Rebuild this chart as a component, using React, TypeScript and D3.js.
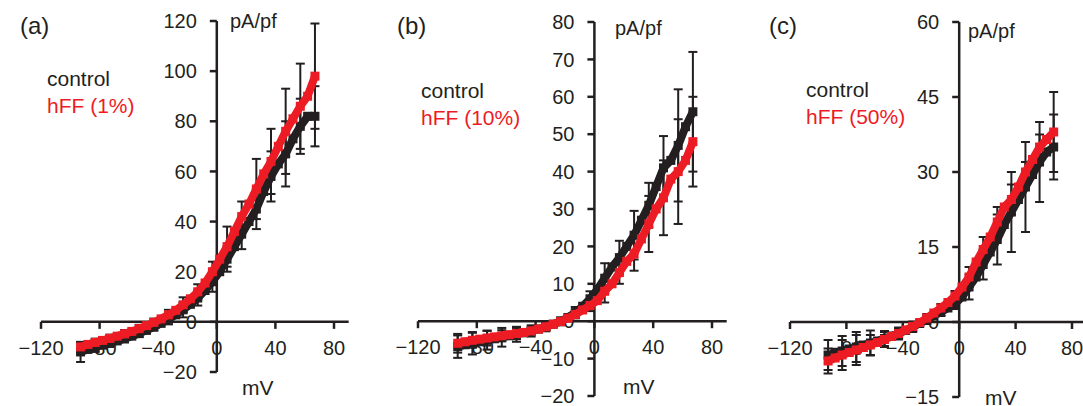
import React from "react";
import * as d3 from "d3";

// ---------- data ----------
const mV = [-93, -88, -83, -78, -73, -68, -63, -58, -53, -48, -43, -38, -33, -28, -23, -18, -13, -8, -3, 2, 7, 12, 17, 22, 27, 32, 37, 42, 47, 52, 57, 62, 67];
const errMv = [-93, -83, -73, -63, -53, -43, -33, -23, -13, -3, 7, 17, 27, 37, 47, 57, 67];
const xTicks = [-120, -80, -40, 0, 40, 80];

// panel (a)
const aControl = [-12, -11, -10, -9.3, -8.5, -7.6, -6.7, -5.7, -4.6, -3.4, -2, -0.6, 1, 2.8, 4.8, 7, 9.5, 12.5, 16, 20, 25, 30, 35, 40, 45, 52, 58, 63, 67, 73, 78, 82, 82];
const aHFF = [-10, -9, -8.2, -7.4, -6.6, -5.7, -4.8, -3.8, -2.7, -1.5, -0.2, 1.2, 2.8, 4.6, 6.8, 9.2, 12, 15.5, 20, 25, 30, 36, 42, 47, 53, 59, 64, 70, 76, 81, 86, 90, 98];
const aControlSem = [4, 2, 1.5, 1.5, 1.5, 1.5, 2, 3, 3, 4, 5, 6, 8, 10, 13, 11, 12];
const aHFFSem = [2, 1.5, 1.5, 1.5, 1.5, 1.5, 2, 3, 3, 4, 8, 6, 12, 13, 17, 17, 21];
const aYTicks = [-20, 0, 20, 40, 60, 80, 100, 120];

// panel (b)
const bControl = [-6.8, -6.3, -5.9, -5.5, -5.1, -4.7, -4.3, -3.9, -3.5, -3.1, -2.6, -2.1, -1.5, -0.8, 0, 1, 2.3, 4, 6, 8.5, 11.5, 14.5, 17, 20, 23, 27, 31, 36, 41, 43, 47, 52, 56];
const bHFF = [-5.9, -5.5, -5.1, -4.8, -4.5, -4.2, -3.9, -3.6, -3.3, -3, -2.6, -2.1, -1.5, -0.8, -0.1, 0.8, 1.8, 3, 4.2, 5.5, 8, 10, 13, 16, 18, 22, 26, 30, 33, 38, 40, 43, 48];
const bControlSem = [3, 3, 2.5, 2.5, 2, 1.5, 1.2, 1, 1.5, 2, 4, 4.5, 6.5, 6, 8.5, 15, 16];
const bHFFSem = [2.5, 2, 2, 1.5, 1.5, 1, 1, 1, 1, 1.5, 3, 3, 4.5, 7.5, 10, 14, 12];
const bYTicks = [-20, -10, 0, 10, 20, 30, 40, 50, 60, 70, 80];

// panel (c)
const cControl = [-6.6, -6.2, -5.8, -5.4, -5, -4.6, -4.2, -3.8, -3.3, -2.8, -2.3, -1.7, -1, -0.3, 0.4, 1.2, 2, 2.8, 3.6, 5, 7, 9, 11.5, 14, 16.5, 19.5, 22, 24.5, 27, 29.5, 32, 34, 35];
const cHFF = [-7.8, -7.2, -6.6, -6.1, -5.6, -5.1, -4.6, -4.1, -3.5, -2.9, -2.3, -1.6, -0.9, -0.1, 0.8, 1.8, 2.8, 3.9, 5.2, 7, 9, 12, 14.5, 17, 20, 23, 24.5, 27, 30, 32.5, 35, 36.5, 38];
const cControlSem = [3, 3, 3, 2.5, 1.5, 1, 1, 0.8, 0.8, 1, 2.5, 3, 5, 8, 9, 8, 6.5];
const cHFFSem = [2.5, 3, 3, 2, 1.5, 1.2, 1, 0.8, 0.8, 1, 2, 2.5, 3, 3, 2, 2.5, 8];
const cYTicks = [-15, 0, 15, 30, 45, 60];

// ---------- styling / layout ----------
const BLACK = "#231F20";
const RED = "#ED1C24";
const FONT = "'Liberation Sans', Arial, Helvetica, sans-serif";

type Panel = {
  label: string;
  legend: string;
  control: number[];
  hff: number[];
  controlSem: number[];
  hffSem: number[];
  yTicks: number[];
  xRange: [number, number];
  yRange: [number, number];
  labelX: number;
  legendX: number;
  legendY: number;
  unitX: number;
  unitY: number;
  mvX: number;
  mvY: number;
};

const panels: Panel[] = [
  {
    label: "(a)", legend: "hFF (1%)", control: aControl, hff: aHFF, controlSem: aControlSem, hffSem: aHFFSem,
    yTicks: aYTicks, xRange: [41, 334], yRange: [372, 21], labelX: 20, legendX: 47, legendY: 86,
    unitX: 230, unitY: 28, mvX: 242, mvY: 395,
  },
  {
    label: "(b)", legend: "hFF (10%)", control: bControl, hff: bHFF, controlSem: bControlSem, hffSem: bHFFSem,
    yTicks: bYTicks, xRange: [418, 712], yRange: [396, 22], labelX: 397, legendX: 421, legendY: 98,
    unitX: 615, unitY: 35, mvX: 623, mvY: 394,
  },
  {
    label: "(c)", legend: "hFF (50%)", control: cControl, hff: cHFF, controlSem: cControlSem, hffSem: cHFFSem,
    yTicks: cYTicks, xRange: [790, 1072], yRange: [397, 22], labelX: 769, legendX: 806, legendY: 97,
    unitX: 968, unitY: 38, mvX: 985, mvY: 405,
  },
];

const fmt = (v: number) => (v < 0 ? "\u2212" + Math.abs(v) : String(v));

function PanelView({ p }: { p: Panel }) {
  const yDom = [p.yTicks[0], p.yTicks[p.yTicks.length - 1]];
  const x = d3.scaleLinear().domain([-120, 80]).range(p.xRange);
  const y = d3.scaleLinear().domain(yDom).range(p.yRange);
  const x0 = x(0);
  const y0 = y(0);
  const line = d3.line<number>().x((_, i) => x(mV[i])).y((d) => y(d));
  const ms = 9;

  const bars = (vals: number[], sem: number[], key: string) =>
    errMv.map((m, j) => {
      const i = mV.indexOf(m);
      const v = vals[i];
      const xx = x(m);
      const hi = y(v + sem[j]);
      const lo = y(v - sem[j]);
      return (
        <g key={key + j} stroke={BLACK} strokeWidth={2}>
          <line x1={xx} x2={xx} y1={hi} y2={lo} />
          <line x1={xx - 4.5} x2={xx + 4.5} y1={hi} y2={hi} />
          <line x1={xx - 4.5} x2={xx + 4.5} y1={lo} y2={lo} />
        </g>
      );
    });

  const series = (vals: number[], color: string, key: string) => (
    <g key={key}>
      <path d={line(vals) || ""} fill="none" stroke={color} strokeWidth={8} strokeLinejoin="round" />
      {vals.map((v, i) => (
        <rect key={i} x={x(mV[i]) - ms / 2} y={y(v) - ms / 2} width={ms} height={ms} fill={color} />
      ))}
    </g>
  );

  return (
    <g fontFamily={FONT}>
      {/* axes */}
      <line x1={x(-120)} x2={x(90)} y1={y0} y2={y0} stroke={BLACK} strokeWidth={2.5} />
      <line x1={x0} x2={x0} y1={y(yDom[0])} y2={y(yDom[1])} stroke={BLACK} strokeWidth={2.5} />
      {p.yTicks.map((t) => (
        <g key={"yt" + t}>
          <line x1={x0 - 7} x2={x0} y1={y(t)} y2={y(t)} stroke={BLACK} strokeWidth={2.5} />
          <text x={x0 - 20} y={y(t)} dy="0.36em" textAnchor="end" fontSize={20} fill={BLACK}>
            {fmt(t)}
          </text>
        </g>
      ))}
      {xTicks.map((t) => (
        <g key={"xt" + t}>
          <line x1={x(t)} x2={x(t)} y1={y0} y2={y0 + 7} stroke={BLACK} strokeWidth={2.5} />
          <text x={x(t)} y={y0 + 26} dy="0.36em" textAnchor="middle" fontSize={20} fill={BLACK}>
            {fmt(t)}
          </text>
        </g>
      ))}
      {/* error bars, then curves */}
      {bars(p.control, p.controlSem, "cb")}
      {bars(p.hff, p.hffSem, "hb")}
      {series(p.control, BLACK, "cs")}
      {series(p.hff, RED, "hs")}
      {/* labels */}
      <text x={p.labelX} y={34} fontSize={24} fill={BLACK}>{p.label}</text>
      <text x={p.unitX} y={p.unitY} fontSize={20} fill={BLACK}>pA/pf</text>
      <text x={p.mvX} y={p.mvY} fontSize={21} fill={BLACK}>mV</text>
      <text x={p.legendX} y={p.legendY} fontSize={21} fill={BLACK}>control</text>
      <text x={p.legendX} y={p.legendY + 27} fontSize={21} fill={RED}>{p.legend}</text>
    </g>
  );
}

export default function App() {
  return (
    <svg
      width={1083}
      height={406}
      viewBox="0 0 1083 406"
      style={{ position: "absolute", left: 0, top: 0, background: "#fff" }}
    >
      <rect width={1083} height={406} fill="#fff" />
      {panels.map((p) => (
        <PanelView key={p.label} p={p} />
      ))}
    </svg>
  );
}
